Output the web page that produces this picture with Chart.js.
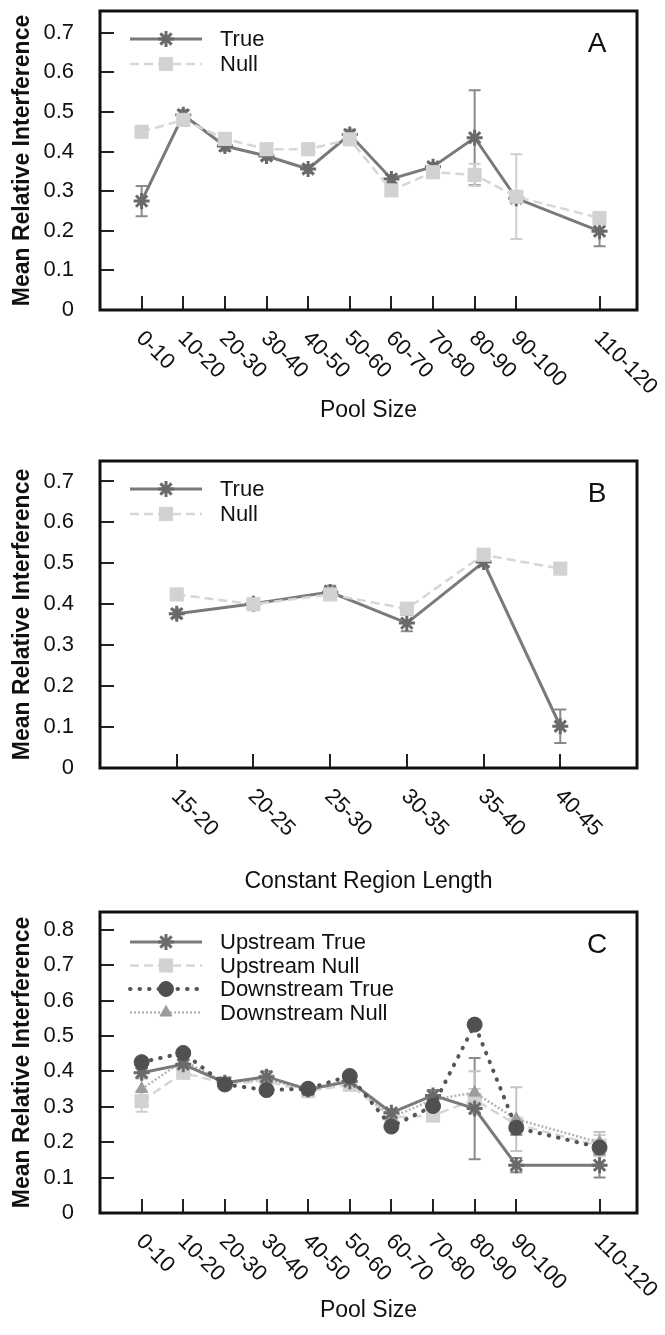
<!DOCTYPE html>
<html><head><meta charset="utf-8">
<script src="https://cdn.jsdelivr.net/npm/chart.js@4.4.1/dist/chart.umd.min.js"></script>
<style>
html,body{margin:0;padding:0;background:#fff;width:665px;height:1335px;overflow:hidden;}
.p{position:absolute;left:0;}
canvas{display:block;}
</style></head><body>
<div class="p" style="top:0px"><canvas id="cA" width="665" height="445"></canvas></div>
<div class="p" style="top:445px"><canvas id="cB" width="665" height="450"></canvas></div>
<div class="p" style="top:895px"><canvas id="cC" width="665" height="440"></canvas></div>
<script>
// ---------- DATA ----------
const poolLabels = ['0-10','10-20','20-30','30-40','40-50','50-60','60-70','70-80','80-90','90-100','110-120'];
const poolMid    = [5, 15, 25, 35, 45, 55, 65, 75, 85, 95, 115];
const regionLabels = ['15-20','20-25','25-30','30-35','35-40','40-45'];
const regionPos    = [1, 2, 3, 4, 5, 6];
const yTicksAB = [0, 0.1, 0.2, 0.3, 0.4, 0.5, 0.6, 0.7];
const yTicksC  = [0, 0.1, 0.2, 0.3, 0.4, 0.5, 0.6, 0.7, 0.8];

// Panel A
const aTrue    = [0.275, 0.493, 0.414, 0.389, 0.356, 0.443, 0.331, 0.362, 0.435, 0.282, 0.199];
const aTrueErr = [0.038, 0.012, 0.012, 0.010, 0.010, 0.012, 0.010, 0.010, 0.120, 0.010, 0.038];
const aNull    = [0.450, 0.480, 0.432, 0.406, 0.406, 0.431, 0.302, 0.348, 0.341, 0.286, 0.232];
const aNullErr = [0.010, 0.010, 0.012, 0.010, 0.010, 0.010, 0.012, 0.010, 0.028, 0.107, 0.015];

// Panel B
const bTrue    = [0.377, 0.401, 0.430, 0.354, 0.503, 0.102];
const bTrueErr = [0.010, 0.010, 0.015, 0.020, 0.010, 0.041];
const bNull    = [0.424, 0.400, 0.424, 0.389, 0.521, 0.487];
const bNullErr = [0.010, 0.010, 0.010, 0.010, 0.010, 0.010];

// Panel C
const cUpTrue      = [0.396, 0.420, 0.368, 0.385, 0.349, 0.372, 0.283, 0.332, 0.295, 0.135, 0.135];
const cUpTrueErr   = [0.015, 0.012, 0.010, 0.015, 0.010, 0.010, 0.010, 0.015, 0.143, 0.020, 0.035];
const cUpNull      = [0.316, 0.396, 0.366, 0.372, 0.344, 0.362, 0.270, 0.275, 0.320, 0.250, 0.190];
const cUpNullErr   = [0.030, 0.010, 0.010, 0.010, 0.010, 0.010, 0.010, 0.010, 0.030, 0.020, 0.030];
const cDownTrue    = [0.426, 0.452, 0.363, 0.347, 0.351, 0.387, 0.244, 0.302, 0.532, 0.241, 0.185];
const cDownTrueErr = [0.010, 0.010, 0.010, 0.010, 0.010, 0.010, 0.010, 0.010, 0.012, 0.020, 0.020];
const cDownNull    = [0.350, 0.430, 0.368, 0.377, 0.349, 0.377, 0.270, 0.320, 0.340, 0.265, 0.199];
const cDownNullErr = [0.030, 0.010, 0.010, 0.010, 0.010, 0.010, 0.010, 0.010, 0.060, 0.090, 0.030];

// ---------- STYLES ----------
const FONT = '"Liberation Sans", Arial, Helvetica, sans-serif';
Chart.defaults.font.family = FONT;
Chart.defaults.color = '#111';

function pts(xs, ys) { return xs.map((x, i) => ({x: x, y: ys[i]})); }

function trueSet(label, xs, ys, err, order) {
  return { label, data: pts(xs, ys), err, errColor: '#8a8a8a', order,
    borderColor: '#7a7a7a', borderWidth: 3, borderDash: [], tension: 0, fill: false,
    pointStyle: 'star', pointRadius: 8, pointBorderWidth: 3,
    pointBorderColor: '#6a6a6a', pointBackgroundColor: '#6a6a6a' };
}
function nullSet(label, xs, ys, err, order) {
  return { label, data: pts(xs, ys), err, errColor: '#cfcfcf', order,
    borderColor: '#d6d6d6', borderWidth: 2.5, borderDash: [9, 5], tension: 0, fill: false,
    pointStyle: 'rect', pointRadius: 10, pointBorderWidth: 0,
    pointBorderColor: '#d2d2d2', pointBackgroundColor: '#d2d2d2' };
}
function downTrueSet(label, xs, ys, err, order) {
  return { label, data: pts(xs, ys), err, errColor: '#777', order,
    borderColor: '#555', borderWidth: 4, borderDash: [0.5, 9], borderCapStyle: 'round', tension: 0, fill: false,
    pointStyle: 'circle', pointRadius: 7.5, pointBorderWidth: 1,
    pointBorderColor: '#505050', pointBackgroundColor: '#505050' };
}
function downNullSet(label, xs, ys, err, order) {
  return { label, data: pts(xs, ys), err, errColor: '#c4c4c4', order,
    borderColor: '#b4b4b4', borderWidth: 2.5, borderDash: [2, 2], tension: 0, fill: false,
    pointStyle: 'triangle', pointRadius: 7, pointBorderWidth: 1,
    pointBorderColor: '#9c9c9c', pointBackgroundColor: '#9c9c9c' };
}

const decor = {
  id: 'decor',
  beforeDatasetsDraw(chart, args, o) {
    const {ctx, scales: {x, y}} = chart;
    chart.data.datasets.forEach(ds => {
      if (!ds.err) return;
      ctx.save();
      ctx.strokeStyle = ds.errColor; ctx.lineWidth = 2;
      ds.data.forEach((p, j) => {
        const e = ds.err[j]; if (!e) return;
        const px = x.getPixelForValue(p.x);
        const y1 = y.getPixelForValue(p.y - e), y2 = y.getPixelForValue(p.y + e);
        ctx.beginPath();
        ctx.moveTo(px, y1); ctx.lineTo(px, y2);
        ctx.moveTo(px - 6, y1); ctx.lineTo(px + 6, y1);
        ctx.moveTo(px - 6, y2); ctx.lineTo(px + 6, y2);
        ctx.stroke();
      });
      ctx.restore();
    });
  },
  afterDraw(chart, args, o) {
    const {ctx, chartArea: a, scales: {x, y}} = chart;
    ctx.save();
    ctx.strokeStyle = '#222'; ctx.lineWidth = 2;
    o.yTicks.forEach(v => {
      if (v === 0) return;
      const py = Math.round(y.getPixelForValue(v));
      ctx.beginPath(); ctx.moveTo(a.left, py); ctx.lineTo(a.left + 14, py); ctx.stroke();
    });
    o.xPos.forEach(v => {
      const px = Math.round(x.getPixelForValue(v));
      ctx.beginPath(); ctx.moveTo(px, a.bottom); ctx.lineTo(px, a.bottom - 14); ctx.stroke();
    });
    ctx.lineWidth = 3; ctx.strokeStyle = '#111';
    ctx.strokeRect(a.left, a.top, a.right - a.left, a.bottom - a.top);
    // rotated x labels
    ctx.fillStyle = '#111';
    ctx.font = '22px ' + FONT;
    ctx.textAlign = 'left'; ctx.textBaseline = 'middle';
    o.xPos.forEach((v, i) => {
      const px = x.getPixelForValue(v);
      ctx.save();
      ctx.translate(px - 2, a.bottom + 25);
      ctx.rotate(Math.PI / 4);
      ctx.fillText(o.xLabels[i], 0, 0);
      ctx.restore();
    });
    // legend
    chart.data.datasets.forEach((ds, i) => {
      const ly = a.top + o.legendTop + i * o.legendGap;
      ctx.save();
      ctx.strokeStyle = ds.borderColor; ctx.lineWidth = ds.borderWidth;
      ctx.setLineDash(ds.borderDash || []); ctx.lineCap = ds.borderCapStyle || 'butt';
      ctx.beginPath(); ctx.moveTo(a.left + 30, ly); ctx.lineTo(a.left + 102, ly); ctx.stroke();
      ctx.restore();
      ctx.save();
      ctx.fillStyle = ds.pointBackgroundColor; ctx.strokeStyle = ds.pointBorderColor;
      ctx.lineWidth = ds.pointBorderWidth;
      Chart.helpers.drawPoint(ctx, {pointStyle: ds.pointStyle, radius: ds.pointRadius, borderWidth: ds.pointBorderWidth, rotation: 0}, a.left + 66, ly);
      ctx.restore();
      ctx.fillStyle = '#111'; ctx.font = '22px ' + FONT;
      ctx.textAlign = 'left'; ctx.textBaseline = 'middle';
      ctx.fillText(ds.label, a.left + 120, ly + 1);
    });
    ctx.font = '28px ' + FONT; ctx.textAlign = 'center'; ctx.textBaseline = 'middle';
    ctx.fillText(o.letter, a.right - 40, a.top + 33);
    ctx.restore();
  }
};

function makePanel(id, p) {
  const el = document.getElementById(id);
  const H = el.height;
  return new Chart(el, {
    type: 'line',
    data: { datasets: p.datasets },
    options: {
      responsive: false, animation: false, devicePixelRatio: 1,
      layout: { padding: { top: p.top, right: 28, left: 0, bottom: 0 } },
      plugins: {
        legend: { display: false }, tooltip: { enabled: false },
        decor: { yTicks: p.yTicks, xPos: p.xPos, xLabels: p.xLabels, letter: p.letter,
                 legendTop: p.legendTop, legendGap: p.legendGap }
      },
      scales: {
        x: { type: 'linear', min: p.xMin, max: p.xMax,
             grid: { display: false }, border: { display: false }, ticks: { display: false },
             title: { display: true, text: p.xTitle, font: { size: 23 }, color: '#111',
                      padding: { top: 0, bottom: p.titlePad } },
             afterFit(s) { s.height = H - p.bottom; s.paddingLeft = 0; s.paddingRight = 0; } },
        y: { type: 'linear', min: 0, max: p.yMax,
             grid: { display: false }, border: { display: false },
             afterBuildTicks(s) { s.ticks = p.yTicks.map(v => ({value: v})); },
             ticks: { font: { size: 22 }, color: '#111', padding: 18, autoSkip: false,
                      callback: v => v === 0 ? '0' : v.toFixed(1) },
             title: { display: true, text: 'Mean Relative Interference',
                      font: { size: 23, weight: 'bold' }, color: '#111', padding: { top: 9, bottom: 0 } },
             afterFit(s) { s.width = 100; s.paddingTop = 0; s.paddingBottom = 0; } }
      }
    },
    plugins: [decor]
  });
}

makePanel('cA', {
  datasets: [ trueSet('True', poolMid, aTrue, aTrueErr, 1), nullSet('Null', poolMid, aNull, aNullErr, 0) ],
  top: 7, bottom: 310, yMax: 0.755, yTicks: yTicksAB, xMin: -5, xMax: 124,
  xPos: poolMid, xLabels: poolLabels, xTitle: 'Pool Size', titlePad: 21,
  letter: 'A', legendTop: 28, legendGap: 25
});
makePanel('cB', {
  datasets: [ trueSet('True', regionPos, bTrue, bTrueErr, 1), nullSet('Null', regionPos, bNull, bNullErr, 0) ],
  top: 16, bottom: 323, yMax: 0.75, yTicks: yTicksAB, xMin: 0, xMax: 7,
  xPos: regionPos, xLabels: regionLabels, xTitle: 'Constant Region Length', titlePad: 0,
  letter: 'B', legendTop: 28, legendGap: 25
});
makePanel('cC', {
  datasets: [
    trueSet('Upstream True', poolMid, cUpTrue, cUpTrueErr, 1),
    nullSet('Upstream Null', poolMid, cUpNull, cUpNullErr, 3),
    downTrueSet('Downstream True', poolMid, cDownTrue, cDownTrueErr, 0),
    downNullSet('Downstream Null', poolMid, cDownNull, cDownNullErr, 2)
  ],
  top: 17, bottom: 318, yMax: 0.85, yTicks: yTicksC, xMin: -5, xMax: 124,
  xPos: poolMid, xLabels: poolLabels, xTitle: 'Pool Size', titlePad: 11,
  letter: 'C', legendTop: 30, legendGap: 23.5
});
</script>
</body></html>
